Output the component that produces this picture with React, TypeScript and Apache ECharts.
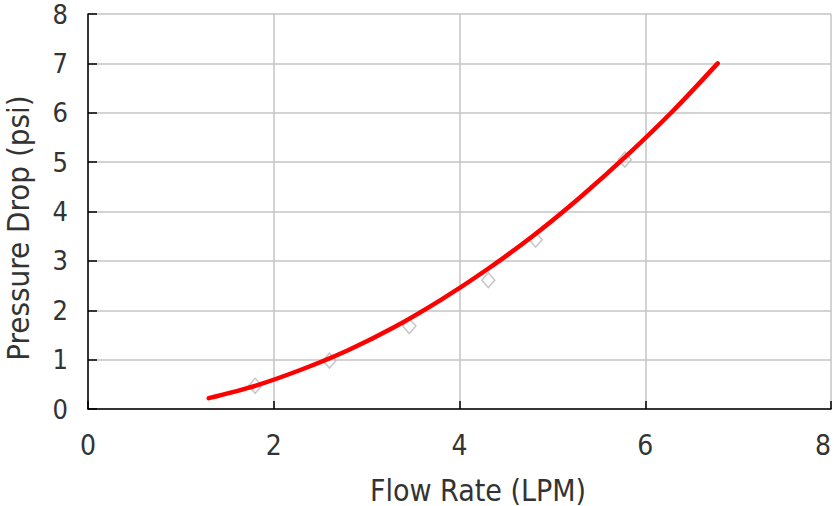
import React, { useEffect, useRef } from "react";
import * as echarts from "echarts";

const xTicks = [0, 2, 4, 6, 8];
const yTicks = [0, 1, 2, 3, 4, 5, 6, 7, 8];

// Fitted curve: [flow rate, pressure drop]
const curveFlow = [1.3, 1.8, 2.3, 2.8, 3.3, 3.8, 4.3, 4.8, 5.3, 5.8, 6.3, 6.78];
const curvePressure = [0.22, 0.47, 0.8, 1.19, 1.66, 2.21, 2.83, 3.52, 4.29, 5.13, 6.04, 7.0];

// Measured points (hollow diamonds)
const pointFlow = [1.8, 2.6, 3.46, 4.31, 4.82, 5.78];
const pointPressure = [0.47, 0.98, 1.68, 2.61, 3.43, 5.05];

const FONT = "'DejaVu Sans Condensed', sans-serif";

export default function App() {
  const ref = useRef<HTMLDivElement>(null);
  useEffect(() => {
    if (!ref.current) return;
    const chart = echarts.init(ref.current, undefined, { renderer: "svg" });
    const curve = curveFlow.map((x, i) => [x, curvePressure[i]]);
    const pts = pointFlow.map((x, i) => [x, pointPressure[i]]);
    chart.setOption({
      animation: false,
      backgroundColor: "#ffffff",
      grid: { left: 88, right: 1, top: 14, bottom: 97, containLabel: false },
      xAxis: {
        type: "value",
        min: xTicks[0],
        max: xTicks[xTicks.length - 1],
        interval: 2,
        axisLine: { show: true, onZero: false, lineStyle: { color: "#000", width: 1.5 } },
        axisTick: { show: true, inside: true, length: 8, lineStyle: { color: "#000", width: 1.5 } },
        splitLine: { show: true, lineStyle: { color: "#c4c4c4", width: 1.5 } },
        axisLabel: {
          margin: 24,
          fontSize: 28,
          lineHeight: 24,
          fontFamily: FONT,
          color: "#333",
          alignMaxLabel: "right",
        },
      },
      yAxis: {
        type: "value",
        min: yTicks[0],
        max: yTicks[yTicks.length - 1],
        interval: 1,
        axisLine: { show: true, onZero: false, lineStyle: { color: "#000", width: 1.5 } },
        axisTick: { show: true, inside: true, length: 9, lineStyle: { color: "#000", width: 1.5 } },
        splitLine: { show: true, lineStyle: { color: "#c4c4c4", width: 1.5 } },
        axisLabel: { margin: 20, fontSize: 27, lineHeight: 24, fontFamily: FONT, color: "#333" },
      },
      graphic: [
        {
          type: "text",
          x: 478,
          y: 490,
          style: {
            text: "Flow Rate (LPM)",
            fontSize: 30,
            lineHeight: 26,
            fontFamily: FONT,
            fill: "#333",
            textAlign: "center",
            textVerticalAlign: "middle",
          },
        },
        {
          type: "text",
          x: 18,
          y: 228,
          rotation: Math.PI / 2,
          style: {
            text: "Pressure Drop (psi)",
            fontSize: 31,
            lineHeight: 28,
            fontFamily: FONT,
            fill: "#333",
            textAlign: "center",
            textVerticalAlign: "middle",
          },
        },
      ],
      series: [
        {
          type: "scatter",
          data: pts,
          symbol: "diamond",
          symbolSize: [13, 15],
          z: 2,
          itemStyle: { color: "rgba(255,255,255,0)", borderColor: "#b8b8b8", borderWidth: 1.5 },
        },
        {
          type: "line",
          data: curve,
          smooth: 0.3,
          showSymbol: false,
          z: 3,
          lineStyle: { color: "#ff0000", width: 4.5, cap: "round" },
        },
      ],
    });
    return () => chart.dispose();
  }, []);
  return (
    <div
      ref={ref}
      style={{ position: "fixed", left: 0, top: 0, width: 834, height: 506 }}
    />
  );
}
